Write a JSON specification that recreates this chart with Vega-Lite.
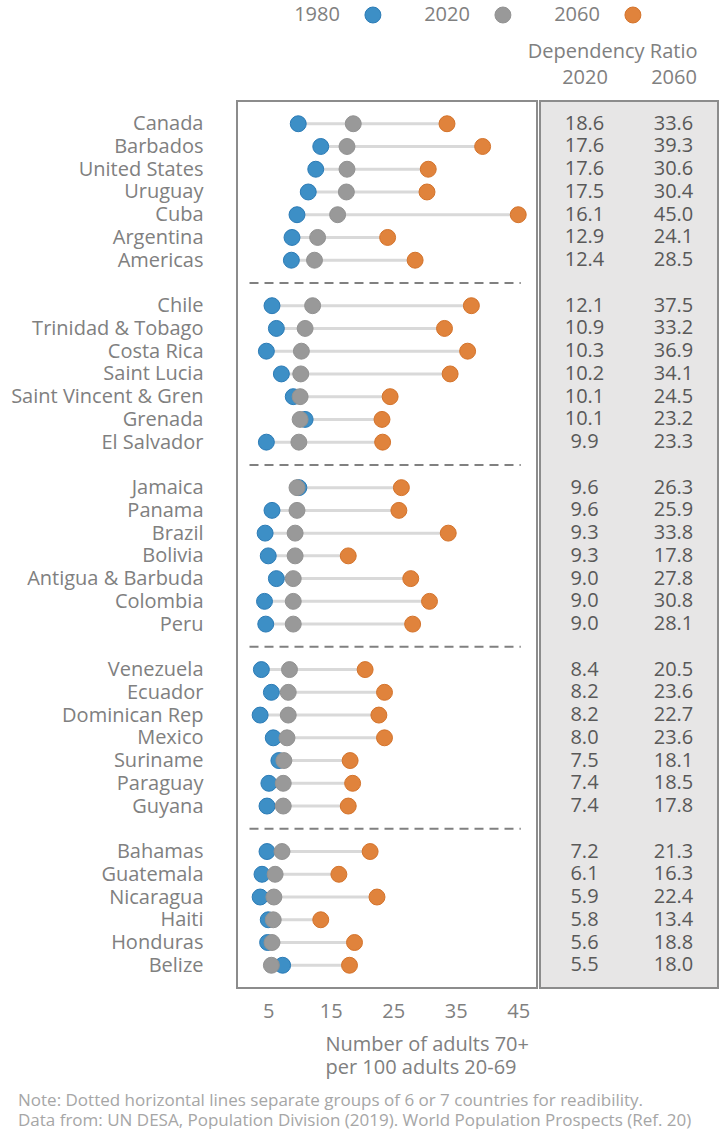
{
  "$schema": "https://vega.github.io/schema/vega-lite/v6.json",
  "padding": {"left": 9, "top": 2, "right": 0, "bottom": 0},
  "bounds": "flush",
  "spacing": 73,
  "config": {
    "font": "Open Sans",
    "view": {"stroke": null},
    "text": {"font": "Open Sans"}
  },
  "title": {
    "text": ["Note: Dotted horizontal lines separate groups of 6 or 7 countries for readibility.", "Data from: UN DESA, Population Division (2019). World Population Prospects (Ref. 20)"],
    "orient": "bottom",
    "anchor": "start",
    "frame": "group",
    "fontSize": 17,
    "fontWeight": "normal",
    "color": "#a6a6a6",
    "lineHeight": 20,
    "dx": -219,
    "offset": 15
  },
  "datasets": {
    "countries": [
      {"country": "Canada", "1980": 9.8, "2020": 18.6, "2060": 33.6},
      {"country": "Barbados", "1980": 13.4, "2020": 17.6, "2060": 39.3},
      {"country": "United States", "1980": 12.6, "2020": 17.6, "2060": 30.6},
      {"country": "Uruguay", "1980": 11.4, "2020": 17.5, "2060": 30.4},
      {"country": "Cuba", "1980": 9.6, "2020": 16.1, "2060": 45.0},
      {"country": "Argentina", "1980": 8.8, "2020": 12.9, "2060": 24.1},
      {"country": "Americas", "1980": 8.7, "2020": 12.4, "2060": 28.5},
      {"country": "Chile", "1980": 5.6, "2020": 12.1, "2060": 37.5},
      {"country": "Trinidad & Tobago", "1980": 6.3, "2020": 10.9, "2060": 33.2},
      {"country": "Costa Rica", "1980": 4.7, "2020": 10.3, "2060": 36.9},
      {"country": "Saint Lucia", "1980": 7.1, "2020": 10.2, "2060": 34.1},
      {"country": "Saint Vincent & Gren", "1980": 9.0, "2020": 10.1, "2060": 24.5},
      {"country": "Grenada", "1980": 10.9, "2020": 10.1, "2060": 23.2},
      {"country": "El Salvador", "1980": 4.7, "2020": 9.9, "2060": 23.3},
      {"country": "Jamaica", "1980": 9.9, "2020": 9.6, "2060": 26.3},
      {"country": "Panama", "1980": 5.6, "2020": 9.6, "2060": 25.9},
      {"country": "Brazil", "1980": 4.5, "2020": 9.3, "2060": 33.8},
      {"country": "Bolivia", "1980": 5.0, "2020": 9.3, "2060": 17.8},
      {"country": "Antigua & Barbuda", "1980": 6.3, "2020": 9.0, "2060": 27.8},
      {"country": "Colombia", "1980": 4.4, "2020": 9.0, "2060": 30.8},
      {"country": "Peru", "1980": 4.6, "2020": 9.0, "2060": 28.1},
      {"country": "Venezuela", "1980": 3.9, "2020": 8.4, "2060": 20.5},
      {"country": "Ecuador", "1980": 5.5, "2020": 8.2, "2060": 23.6},
      {"country": "Dominican Rep", "1980": 3.7, "2020": 8.2, "2060": 22.7},
      {"country": "Mexico", "1980": 5.8, "2020": 8.0, "2060": 23.6},
      {"country": "Suriname", "1980": 6.7, "2020": 7.5, "2060": 18.1},
      {"country": "Paraguay", "1980": 5.1, "2020": 7.4, "2060": 18.5},
      {"country": "Guyana", "1980": 4.8, "2020": 7.4, "2060": 17.8},
      {"country": "Bahamas", "1980": 4.8, "2020": 7.2, "2060": 21.3},
      {"country": "Guatemala", "1980": 4.0, "2020": 6.1, "2060": 16.3},
      {"country": "Nicaragua", "1980": 3.7, "2020": 5.9, "2060": 22.4},
      {"country": "Haiti", "1980": 5.0, "2020": 5.8, "2060": 13.4},
      {"country": "Honduras", "1980": 4.9, "2020": 5.6, "2060": 18.8},
      {"country": "Belize", "1980": 7.3, "2020": 5.5, "2060": 18.0}
    ],
    "separators": [
      {"country": "sep1"}, {"country": "sep2"}, {"country": "sep3"}, {"country": "sep4"}
    ],
    "legend": [
      {"year": "1980"}, {"year": "2020"}, {"year": "2060"}
    ]
  },
  "vconcat": [
    {
      "width": 481,
      "height": 26,
      "view": {"stroke": null},
      "data": {"name": "legend"},
      "encoding": {
        "x": {"field": "year", "type": "nominal", "scale": {"type": "point", "padding": 0.85, "align": 0.615}, "axis": null}
      },
      "layer": [
        {
          "mark": {"type": "circle", "size": 254, "opacity": 1, "strokeWidth": 1},
          "encoding": {
            "color": {"field": "year", "type": "nominal", "scale": {"domain": ["1980", "2020", "2060"], "range": ["#3d8fc6", "#999999", "#e0833c"]}, "legend": null},
            "stroke": {"field": "year", "type": "nominal", "scale": {"domain": ["1980", "2020", "2060"], "range": ["#2b7bb6", "#929292", "#d4732b"]}, "legend": null}
          }
        },
        {
          "mark": {"type": "text", "align": "right", "dx": -33, "fontSize": 20, "color": "#808080"},
          "encoding": {"text": {"field": "year"}}
        }
      ]
    },
    {
      "bounds": "flush",
      "spacing": 3,
      "hconcat": [
        {
          "width": 300,
          "height": 887,
          "view": {"stroke": "#8c8c8c", "strokeWidth": 2, "fill": "white"},
          "data": {"name": "countries"},
          "encoding": {
            "y": {
              "field": "country",
              "type": "nominal",
              "scale": {
                "type": "point",
                "padding": 1,
                "domain": ["Canada", "Barbados", "United States", "Uruguay", "Cuba", "Argentina", "Americas", "sep1", "Chile", "Trinidad & Tobago", "Costa Rica", "Saint Lucia", "Saint Vincent & Gren", "Grenada", "El Salvador", "sep2", "Jamaica", "Panama", "Brazil", "Bolivia", "Antigua & Barbuda", "Colombia", "Peru", "sep3", "Venezuela", "Ecuador", "Dominican Rep", "Mexico", "Suriname", "Paraguay", "Guyana", "sep4", "Bahamas", "Guatemala", "Nicaragua", "Haiti", "Honduras", "Belize"]
              },
              "axis": {
                "title": null,
                "ticks": false,
                "tickSize": 0,
                "domain": false,
                "labelPadding": 34,
                "labelFontSize": 20,
                "labelColor": "#808080",
                "labelLimit": 400,
                "labelExpr": "indexof(datum.label, 'sep') == 0 ? '' : datum.label"
              }
            }
          },
          "layer": [
            {
              "transform": [{"fold": ["1980", "2020", "2060"], "as": ["year", "value"]}],
              "mark": {"type": "rule", "color": "#d9d9d9", "strokeWidth": 3},
              "encoding": {
                "x": {"aggregate": "min", "field": "value", "type": "quantitative", "scale": {"domain": [0, 48], "nice": false, "zero": false},
                  "axis": {
                    "values": [5, 15, 25, 35, 45],
                    "grid": false,
                    "ticks": false,
                    "tickSize": 0,
                    "domain": false,
                    "labelFontSize": 20,
                    "labelColor": "#808080",
                    "labelPadding": 13,
                    "title": ["Number of adults 70+", "per 100 adults 20-69"],
                    "titleFontSize": 20,
                    "titleFontWeight": "normal",
                    "titleColor": "#808080",
                    "titleLineHeight": 23,
                    "titleAlign": "left",
                    "titleX": 88,
                    "titlePadding": 13
                  }
                },
                "x2": {"aggregate": "max", "field": "value"}
              }
            },
            {
              "data": {"name": "separators"},
              "mark": {"type": "rule", "color": "#808080", "strokeWidth": 2, "strokeDash": [9, 6]},
              "encoding": {
                "x": {"datum": 2, "type": "quantitative"},
                "x2": {"datum": 45.4}
              }
            },
            {
              "transform": [{"fold": ["1980", "2020", "2060"], "as": ["year", "value"]}],
              "mark": {"type": "circle", "size": 254, "opacity": 1, "strokeWidth": 1},
              "encoding": {
                "x": {"field": "value", "type": "quantitative"},
                "color": {"field": "year", "type": "nominal", "scale": {"domain": ["1980", "2020", "2060"], "range": ["#3d8fc6", "#999999", "#e0833c"]}, "legend": null},
                "stroke": {"field": "year", "type": "nominal", "scale": {"domain": ["1980", "2020", "2060"], "range": ["#2b7bb6", "#929292", "#d4732b"]}, "legend": null}
              }
            }
          ]
        },
        {
          "width": 178,
          "height": 887,
          "view": {"stroke": "#8c8c8c", "strokeWidth": 2, "fill": "#e7e6e6"},
          "data": {"name": "countries"},
          "transform": [{"fold": ["2020", "2060"], "as": ["year", "value"]}],
          "mark": {"type": "text", "fontSize": 20, "color": "#595959", "align": "center"},
          "encoding": {
            "y": {
              "field": "country",
              "type": "nominal",
              "scale": {
                "type": "point",
                "padding": 1,
                "domain": ["Canada", "Barbados", "United States", "Uruguay", "Cuba", "Argentina", "Americas", "sep1", "Chile", "Trinidad & Tobago", "Costa Rica", "Saint Lucia", "Saint Vincent & Gren", "Grenada", "El Salvador", "sep2", "Jamaica", "Panama", "Brazil", "Bolivia", "Antigua & Barbuda", "Colombia", "Peru", "sep3", "Venezuela", "Ecuador", "Dominican Rep", "Mexico", "Suriname", "Paraguay", "Guyana", "sep4", "Bahamas", "Guatemala", "Nicaragua", "Haiti", "Honduras", "Belize"]
              },
              "axis": null
            },
            "x": {
              "field": "year",
              "type": "nominal",
              "scale": {"type": "point", "padding": 0.5},
              "axis": {
                "orient": "top",
                "ticks": false,
                "tickSize": 0,
                "domain": false,
                "labelAngle": 0,
                "labelFontSize": 20,
                "labelColor": "#808080",
                "labelPadding": 14,
                "title": "Dependency Ratio",
                "titleFontSize": 20,
                "titleFontWeight": "normal",
                "titleColor": "#808080",
                "titleAlign": "right",
                "titleX": 157,
                "titlePadding": 6
              }
            },
            "text": {"field": "value", "type": "quantitative", "format": ".1f"}
          }
        }
      ]
    }
  ]
}
